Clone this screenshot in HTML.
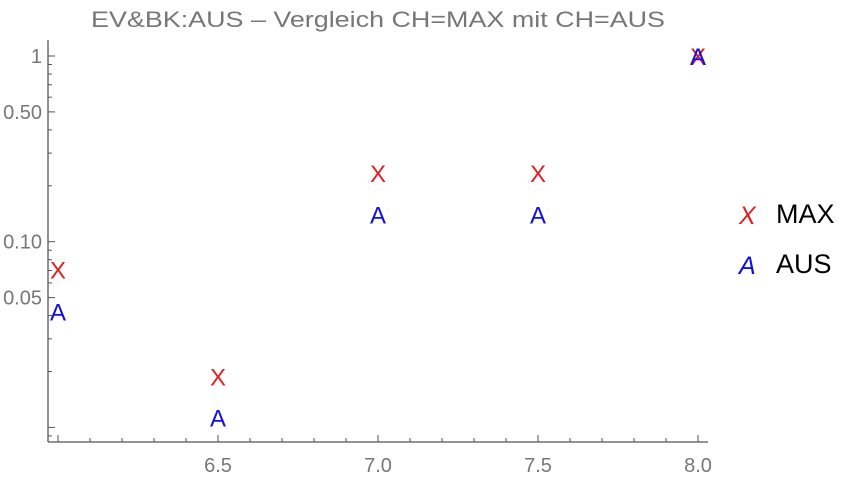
<!DOCTYPE html>
<html><head><meta charset="utf-8"><style>
body{margin:0;background:#fff;}
svg{display:block;font-family:"Liberation Sans",sans-serif;}
</style></head><body>
<svg id="chart" width="850" height="480" viewBox="0 0 850 480">
<text x="91" y="27" textLength="574" lengthAdjust="spacingAndGlyphs" font-size="22" fill="#777">EV&amp;BK:AUS – Vergleich CH=MAX mit CH=AUS</text>
<g id="axes"></g>
<g id="marks"></g>
<g>
<text x="739" y="224" font-size="25" font-style="italic" fill="#e02020">X</text>
<text x="776" y="223" font-size="27" fill="#000">MAX</text>
<text x="739" y="274" font-size="25" font-style="italic" fill="#1010e0">A</text>
<text x="776" y="273" font-size="27" fill="#000">AUS</text>
</g>
</svg>
<script>
const categories=[6.0,6.5,7.0,7.5,8.0];
const maxValues=[0.0707,0.0188,0.235,0.235,1.0];
const ausValues=[0.042,0.0113,0.14,0.14,1.0];
const xTickLabels=["6.5","7.0","7.5","8.0"];
const xTickValues=[6.5,7.0,7.5,8.0];
const yTickLabels=["1","0.50","0.10","0.05"];
const yTickValues=[1,0.5,0.1,0.05];
const NS="http://www.w3.org/2000/svg";
const X0=48,X1=708,Y0=442,Y1=40;
const xs=v=>58+(v-6)*320;
const ys=v=>56-Math.log10(v)*185.7;
const axes=document.getElementById('axes'),marks=document.getElementById('marks');
function mk(tag,attrs,parent){const e=document.createElementNS(NS,tag);for(const k in attrs)e.setAttribute(k,attrs[k]);parent.appendChild(e);return e;}
let l=mk('line',{x1:X0,y1:Y0,x2:X1,y2:Y0,stroke:'#555','stroke-width':1.3},axes);


l=mk('line',{x1:X0,y1:Y0,x2:X0,y2:Y1,stroke:'#555','stroke-width':1.3},axes);


for(let i=0;i<=20;i++){const v=6+i*0.1;const x=xs(v);const major=i%5==0;
 const t=mk('line',{x1:x,y1:Y0,x2:x,y2:Y0-(major?7:4),stroke:'#555'},axes);
 
 }
xTickValues.forEach((v,i)=>{const t=mk('text',{x:xs(v),y:Y0+30,'text-anchor':'middle','font-size':20,fill:'#777'},axes);t.textContent=xTickLabels[i];
 
 });
[0.009,0.01,0.02,0.03,0.04,0.05,0.06,0.07,0.08,0.09,0.1,0.2,0.3,0.4,0.5,0.6,0.7,0.8,0.9,1].forEach(v=>{
 const y=ys(v);if(y>Y0)return;const major=[1,0.5,0.1,0.05,0.01].includes(v);
 const t=mk('line',{x1:X0,y1:y,x2:X0+(major?7:4),y2:y,stroke:'#555'},axes);
 
 });
yTickValues.forEach((v,i)=>{const t=mk('text',{x:X0-6,y:ys(v)+7,'text-anchor':'end','font-size':20,fill:'#777'},axes);t.textContent=yTickLabels[i];
 
 });
categories.forEach((c,i)=>{
 let t=mk('text',{x:xs(c),y:ys(maxValues[i])+9,'text-anchor':'middle','font-size':24,fill:'#e02020'},marks);t.textContent='X';
 
 
 t=mk('text',{x:xs(c),y:ys(ausValues[i])+9,'text-anchor':'middle','font-size':24,fill:'#1010e0'},marks);t.textContent='A';
 
 
});
</script>
</body></html>
